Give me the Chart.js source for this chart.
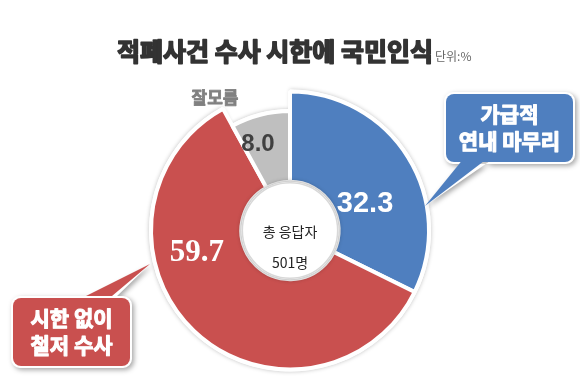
<!DOCTYPE html>
<html>
<head>
<meta charset="utf-8">
<script src="https://cdn.jsdelivr.net/npm/chart.js@4"></script>
<style>
  html, body { margin: 0; padding: 0; background: #fff; }
  canvas { display: block; }
</style>
</head>
<body>
<canvas id="chart" width="580" height="391"></canvas>
<script>
const categories = ['가급적 연내 마무리', '시한 없이 철저 수사', '잘모름'];
const values = [32.3, 59.7, 8.0];
const colors = ['#4f7fbf', '#c9504f', '#bfbfbf'];
const title = '적폐사건 수사 시한에 국민인식';
const unit = '단위:%';
const centerText = ['총 응답자', '501명'];

const KR = '"Noto Sans CJK KR", "Noto Sans", sans-serif';

// label offsets from donut centre, as fractions of the outer radius, plus font and colour
const labelStyle = [
  [0.54, -0.19, 'bold 29px "Liberation Sans", Arial, sans-serif', '#fff'],
  [-0.67, 0.16, 'bold 31px "Liberation Serif", "DejaVu Serif", serif', '#fff'],
  [-0.23, -0.62, 'bold 24px "Liberation Sans", Arial, sans-serif', '#404040']
];
// the "don't know" slice is drawn shorter than the others
const sliceRadius = [1, 1, 0.86];

// draw text with a thin stroke so it looks heavier
function heavyText(ctx, t, x, y, w) {
  ctx.lineWidth = w;
  ctx.strokeStyle = ctx.fillStyle;
  ctx.lineJoin = 'round';
  ctx.strokeText(t, x, y);
  ctx.fillText(t, x, y);
}

function roundRect(ctx, x, y, w, h, r) {
  ctx.moveTo(x + r, y);
  ctx.arcTo(x + w, y, x + w, y + h, r);
  ctx.arcTo(x + w, y + h, x, y + h, r);
  ctx.arcTo(x, y + h, x, y, r);
  ctx.arcTo(x, y, x + w, y, r);
}

function callout(ctx, box, tail, fill, lines) {
  ctx.save();
  ctx.shadowColor = 'rgba(0,0,0,0.35)';
  ctx.shadowBlur = 5;
  ctx.shadowOffsetX = 2;
  ctx.shadowOffsetY = 2;
  ctx.beginPath();
  roundRect(ctx, box.x, box.y, box.w, box.h, 9);
  ctx.moveTo(tail[0][0], tail[0][1]);
  ctx.lineTo(tail[1][0], tail[1][1]);
  ctx.lineTo(tail[2][0], tail[2][1]);
  ctx.closePath();
  ctx.fillStyle = '#fff';
  ctx.fill();
  ctx.restore();
  ctx.save();
  ctx.beginPath();
  roundRect(ctx, box.x + 2, box.y + 2, box.w - 4, box.h - 4, 8);
  ctx.fillStyle = fill;
  ctx.fill();
  ctx.beginPath();
  ctx.moveTo(tail[0][0] + 2, tail[0][1] - 3);
  ctx.lineTo(tail[1][0], tail[1][1]);
  ctx.lineTo(tail[2][0] - 2, tail[2][1] - 3);
  ctx.fill();
  ctx.fillStyle = '#fff';
  ctx.font = 'bold 21px ' + KR;
  ctx.textAlign = 'center';
  ctx.textBaseline = 'middle';
  lines.forEach((t, i) => heavyText(ctx, t, box.x + box.w / 2, box.y + box.h / 2 + (i - 0.5) * 27, 1.1));
  ctx.restore();
}

const decor = {
  id: 'decor',
  beforeDatasetsDraw(chart) {
    const ctx = chart.ctx;
    const meta = chart.getDatasetMeta(0);
    const arc = meta.data[0];
    const R = arc.outerRadius;
    // faint rim behind the full-length slices
    ctx.save();
    ctx.shadowColor = 'rgba(0,0,0,0.25)';
    ctx.shadowBlur = 4;
    ctx.fillStyle = '#fff';
    meta.data.forEach((el, i) => {
      const rr = R * sliceRadius[i];
      ctx.beginPath();
      ctx.moveTo(el.x, el.y);
      ctx.arc(el.x, el.y, rr + 2, el.startAngle, el.endAngle);
      ctx.closePath();
      ctx.fill();
      el.outerRadius = rr;
    });
    ctx.restore();
  },
  afterDatasetsDraw(chart) {
    const ctx = chart.ctx;
    const meta = chart.getDatasetMeta(0);
    const arc = meta.data[0];
    const cx = arc.x, cy = arc.y, R = arc.outerRadius, r = arc.innerRadius;

    // inner disc with soft rim
    ctx.save();
    ctx.beginPath();
    ctx.arc(cx, cy, r, 0, Math.PI * 2);
    ctx.fillStyle = '#fff';
    ctx.shadowColor = 'rgba(0,0,0,0.45)';
    ctx.shadowBlur = 5;
    ctx.fill();
    ctx.restore();
    ctx.save();
    ctx.beginPath();
    ctx.arc(cx, cy, r - 1, 0, Math.PI * 2);
    ctx.strokeStyle = '#d8d8d8';
    ctx.lineWidth = 1.5;
    ctx.stroke();
    ctx.fillStyle = '#222';
    ctx.font = '14px ' + KR;
    ctx.textAlign = 'center';
    ctx.textBaseline = 'middle';
    ctx.fillText(centerText[0], cx, cy + 1);
    ctx.fillText(centerText[1], cx, cy + 32);
    ctx.restore();

    // value labels
    ctx.save();
    ctx.textAlign = 'center';
    ctx.textBaseline = 'middle';
    values.forEach((v, i) => {
      const [fx, fy, font, col] = labelStyle[i];
      ctx.font = font;
      ctx.fillStyle = col;
      ctx.fillText(v.toFixed(1), cx + fx * R, cy + fy * R);
    });
    ctx.restore();
  },
  afterDraw(chart) {
    const ctx = chart.ctx;
    ctx.save();
    ctx.fillStyle = '#333';
    ctx.font = 'bold 25px ' + KR;
    ctx.textBaseline = 'alphabetic';
    ctx.textAlign = 'left';
    heavyText(ctx, title, 117, 61, 1.6);
    const tw = ctx.measureText(title).width;
    ctx.fillStyle = '#666';
    ctx.font = '12px ' + KR;
    ctx.fillText(unit, 117 + tw + 2, 61);
    ctx.fillStyle = '#808080';
    ctx.font = 'bold 17px ' + KR;
    ctx.textAlign = 'center';
    heavyText(ctx, categories[2], 215, 104, 0.8);
    ctx.restore();

    callout(ctx, {x: 444, y: 92, w: 131, h: 72}, [[462, 161], [425, 206], [490, 161]], colors[0], ['가급적', '연내 마무리']);
    callout(ctx, {x: 11, y: 296, w: 121, h: 72}, [[84, 299], [150, 264], [114, 299]], colors[1], ['시한 없이', '철저 수사']);
  }
};

new Chart(document.getElementById('chart').getContext('2d'), {
  type: 'doughnut',
  data: {
    labels: categories,
    datasets: [{
      data: values,
      backgroundColor: colors,
      borderColor: '#fff',
      borderWidth: 4,
      hoverOffset: 0
    }]
  },
  options: {
    responsive: false,
    animation: false,
    cutout: '35%',
    layout: { padding: { top: 89, bottom: 19, left: 149, right: 149 } },
    plugins: {
      legend: { display: false },
      tooltip: { enabled: false }
    }
  },
  plugins: [decor]
});
</script>
</body>
</html>
